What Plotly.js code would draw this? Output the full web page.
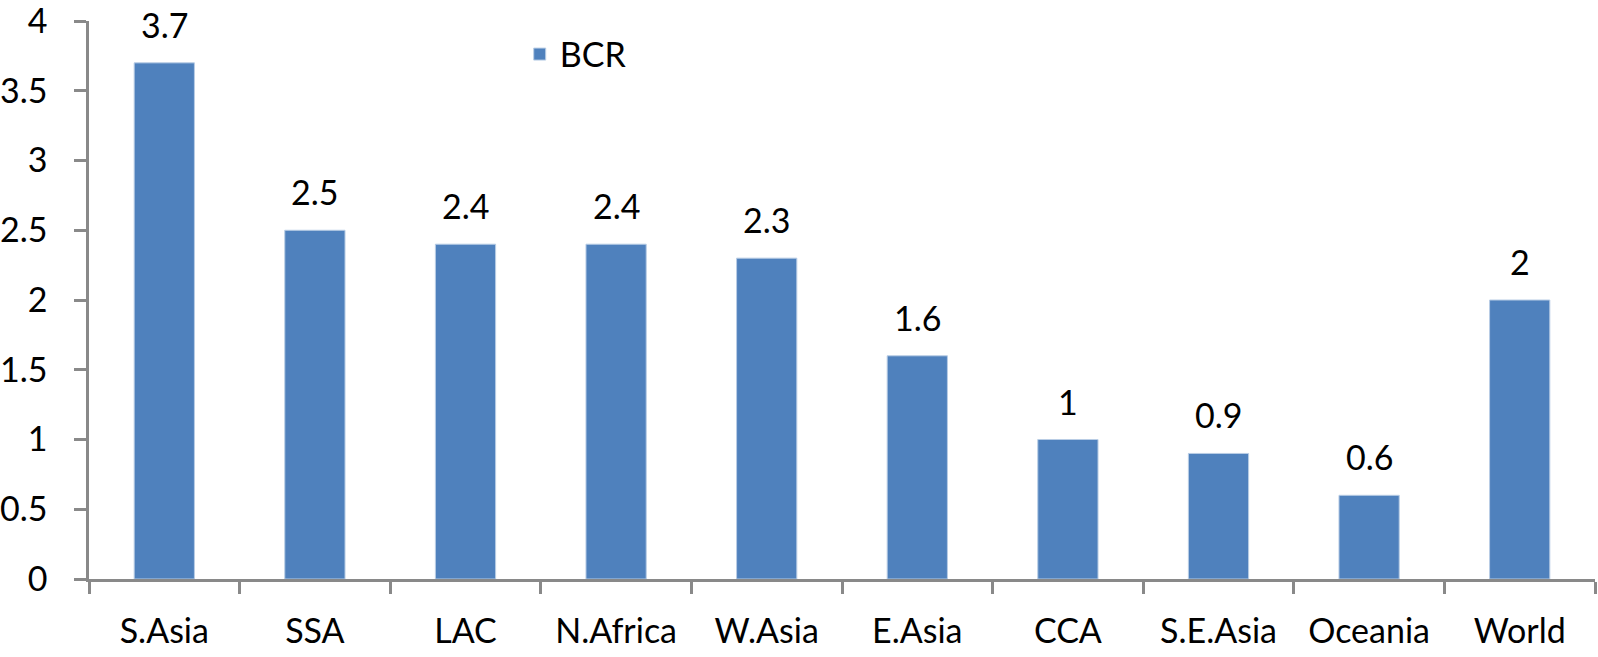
<!DOCTYPE html>
<html>
<head>
<meta charset="utf-8">
<script src="https://cdn.plot.ly/plotly-3.0.1.min.js"></script>
<style>html,body{margin:0;padding:0;background:#fff;}#chart{width:1598px;height:657px;}</style>
</head>
<body>
<div id="chart"></div>
<script>
const categories = ["S.Asia", "SSA", "LAC", "N.Africa", "W.Asia", "E.Asia", "CCA", "S.E.Asia", "Oceania", "World"];
const bcr = [3.7, 2.5, 2.4, 2.4, 2.3, 1.6, 1, 0.9, 0.6, 2];
const yTicks = [0, 0.5, 1, 1.5, 2, 2.5, 3, 3.5, 4];
const yTickLabels = ["0", "0.5", "1", "1.5", "2", "2.5", "3", "3.5", "4"];

const FONT = "Lato, 'Open Sans', sans-serif";
const FS = 34;
const AXIS = "#898989";

const trace = {
  type: "bar",
  name: "BCR",
  x: categories,
  y: bcr,
  marker: {color: "#4F81BD", line: {color: "#B9CDE5", width: 1}},
  hoverinfo: "x+y"
};

const annotations = categories.map((c, i) => ({
  x: c, y: bcr[i], xref: "x", yref: "y",
  text: String(bcr[i]),
  showarrow: false, yanchor: "bottom", yshift: 16,
  font: {family: FONT, size: FS, color: "#000"}
}));

const layout = {
  width: 1598, height: 657,
  margin: {l: 89, r: 3, t: 21, b: 78, pad: 0},
  paper_bgcolor: "#fff", plot_bgcolor: "#fff",
  font: {family: FONT, size: FS, color: "#000"},
  bargap: 0.6,
  showlegend: true,
  legend: {x: 0.286, y: 0.94, xanchor: "left", yanchor: "middle", font: {family: FONT, size: FS, color: "#000"}, bgcolor: "rgba(0,0,0,0)"},
  xaxis: {
    type: "category",
    showline: true, linecolor: AXIS, linewidth: 2.5,
    ticks: "outside", tickson: "boundaries", ticklen: 12, tickwidth: 2.5, tickcolor: AXIS,
    showgrid: false, zeroline: false,
    ticklabelstandoff: 20,
    ticklabeloverflow: "allow",
    tickfont: {family: FONT, size: FS, color: "#000"}
  },
  yaxis: {
    range: [0, 4], tickvals: yTicks, ticktext: yTickLabels,
    showline: true, linecolor: AXIS, linewidth: 2.5,
    ticks: "outside", ticklen: 12, tickwidth: 2.5, tickcolor: AXIS,
    showgrid: false, zeroline: false,
    ticklabelstandoff: 20,
    ticklabeloverflow: "allow",
    tickfont: {family: FONT, size: FS, color: "#000"}
  },
  annotations: annotations
};

Plotly.newPlot("chart", [trace], layout, {displayModeBar: false});
</script>
</body>
</html>
